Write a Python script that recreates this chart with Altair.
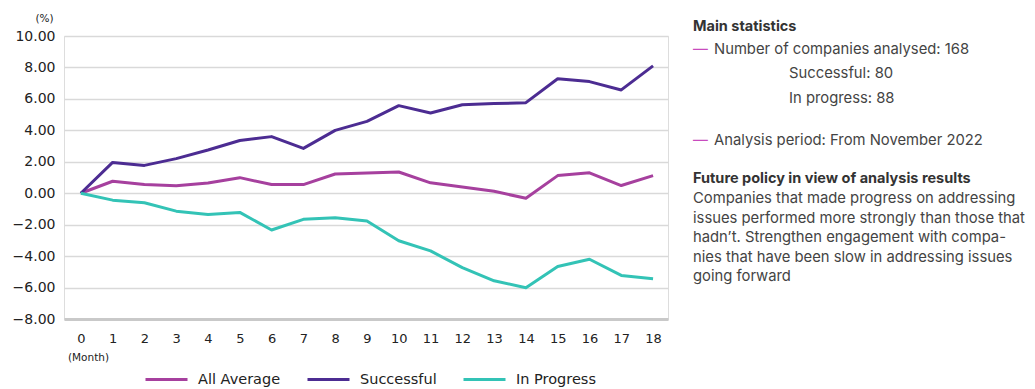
import altair as alt
import pandas as pd

months = list(range(19))
series_names = ["All Average", "Successful", "In Progress"]
all_average = [0, 0.76, 0.55, 0.47, 0.65, 0.99, 0.55, 0.55, 1.22, 1.28, 1.35, 0.66, 0.40, 0.12, -0.32, 1.12, 1.30, 0.49, 1.12]
successful = [0, 1.96, 1.77, 2.2, 2.75, 3.35, 3.6, 2.85, 4.0, 4.57, 5.57, 5.1, 5.63, 5.7, 5.76, 7.28, 7.1, 6.57, 8.1]
in_progress = [0, -0.44, -0.61, -1.14, -1.35, -1.22, -2.34, -1.66, -1.56, -1.77, -3.02, -3.67, -4.73, -5.57, -6.01, -4.66, -4.2, -5.23, -5.44]
y_ticks = [-8, -6, -4, -2, 0, 2, 4, 6, 8, 10]
colors = ["#A6409E", "#4C2C92", "#33C3B6"]

stats_title = "Main statistics"
stats_line1 = "Number of companies analysed: 168"
stats_sub = ["Successful: 80", "In progress: 88"]
stats_line2 = "Analysis period: From November 2022"
policy_title = "Future policy in view of analysis results"
policy_lines = [
    "Companies that made progress on addressing",
    "issues performed more strongly than those that",
    "hadn\u2019t. Strengthen engagement with compa-",
    "nies that have been slow in addressing issues",
    "going forward",
]

rows = []
for name, vals in zip(series_names, [all_average, successful, in_progress]):
    for m, v in zip(months, vals):
        rows.append({"month": m, "series": name, "value": v})
df = pd.DataFrame(rows)

FONT = "Inter"
AXFONT = "DejaVu Sans"
W, H = 604, 283

lines = alt.Chart(df).mark_line(strokeWidth=3, strokeJoin="round").encode(
    x=alt.X("month:Q", scale=alt.Scale(domain=[-0.53, 18.47], nice=False, zero=False),
            axis=alt.Axis(values=months, format="d", title="(Month)", ticks=False,
                          grid=False, labelPadding=13, labelFontSize=13, labelColor="#222",
                          domain=True, domainColor="#c9c9c9", domainWidth=3,
                          titleFontSize=10.5, titleFontWeight="normal", titleColor="#222",
                          titleX=24, titleY=38, titleAnchor="middle", titleAlign="center",
                          titleBaseline="middle", labelFont=AXFONT, titleFont=AXFONT)),
    y=alt.Y("value:Q", scale=alt.Scale(domain=[-8, 10], nice=False),
            axis=alt.Axis(values=y_ticks, format=".2f", title="(%)", ticks=False,
                          domain=False, gridColor="#d9d9d9", gridWidth=1.5,
                          labelPadding=9, labelFontSize=14, labelColor="#222",
                          titleAngle=0, titleFontSize=10.5, titleFontWeight="normal",
                          titleColor="#222", titleX=-20, titleY=-18, titleAlign="center",
                          titleBaseline="middle", labelFont=AXFONT, titleFont=AXFONT)),
    color=alt.Color("series:N", scale=alt.Scale(domain=series_names, range=colors),
                    legend=alt.Legend(orient="none", legendX=80, legendY=321, direction="horizontal",
                                      title=None, symbolType="stroke", symbolStrokeWidth=3,
                                      symbolSize=1764, labelFontSize=14.5, labelColor="#222",
                                      labelFont=AXFONT, labelOffset=9, columnPadding=20)),
    order=alt.Order("month:Q"),
)

one = pd.DataFrame({"k": [1]})
TX = 629
txt_color = "#444"

def text_layer(text, x, y, weight="normal", color=txt_color, line_height=None, size=14.8):
    kw = dict(align="left", baseline="middle", font=FONT, fontSize=size,
              fontWeight=weight, color=color)
    if line_height is not None:
        kw["lineHeight"] = line_height
    return alt.Chart(one).mark_text(**kw).encode(
        x=alt.value(x), y=alt.value(y), text=alt.value(text))

annot = [
    text_layer(stats_title, TX, -9, weight="bold", color="#333", size=14.5),
    text_layer("—", TX, 14, color="#C84BBE"),
    text_layer(stats_line1, TX + 21, 14),
    text_layer(stats_sub, TX + 96, 38, line_height=24.5),
    text_layer("—", TX, 105, color="#C84BBE"),
    text_layer(stats_line2, TX + 21, 105),
    text_layer(policy_title, TX, 143, weight="bold", color="#333", size=14.5),
    text_layer(policy_lines, TX, 163, line_height=19.5),
]

chart = alt.layer(lines, *annot).properties(
    width=W, height=H,
    autosize=alt.AutoSizeParams(type="none"),
    padding={"left": 64, "top": 36, "right": 1035 - 64 - W, "bottom": 389 - 36 - H},
).configure_view(stroke=None).configure(background="white")

chart.save("out.html", embed_options={"renderer": "svg", "actions": False})
